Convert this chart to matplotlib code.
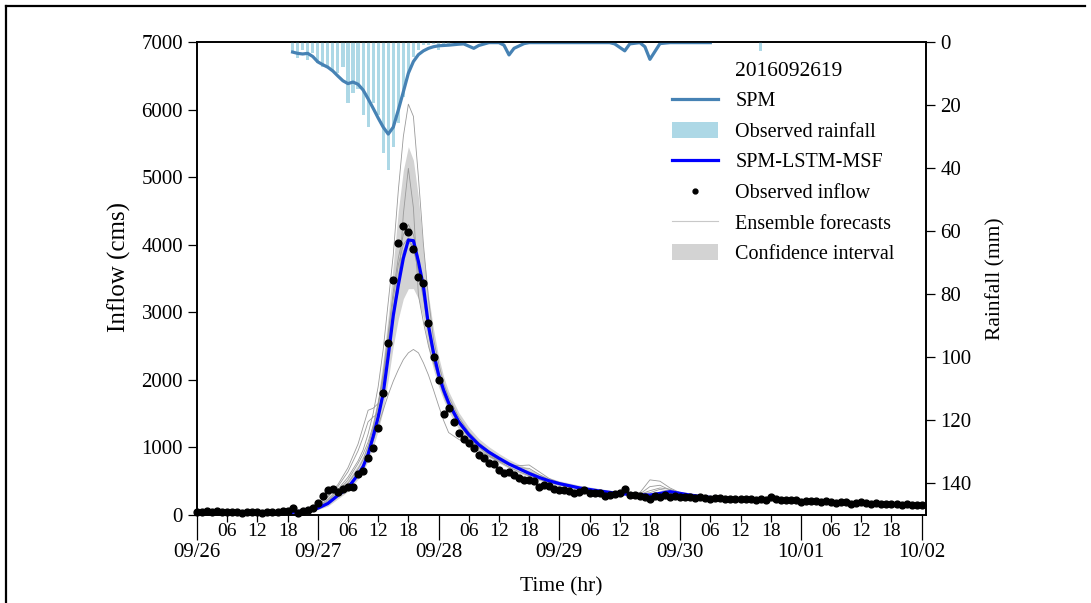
import numpy as np
import matplotlib
matplotlib.use('Agg')
import matplotlib.pyplot as plt
from matplotlib.lines import Line2D
from matplotlib.patches import Patch

plt.rcParams['font.family'] = ['Liberation Serif', 'DejaVu Serif']

# ---------------- data ----------------
# Observed inflow (cms), hourly from 2016-09-26 00:00
obs_inflow = [50, 40, 55, 45, 60, 40, 50, 45, 40, 35, 45, 40, 45, 35, 50, 40, 45, 55,
              60, 100, 30, 60, 80, 100, 180, 280, 370, 380, 340, 390, 415, 420, 600, 650,
              840, 990, 1290, 1800, 2545, 3475, 4030, 4280, 4190, 3940, 3525, 3430, 2840,
              2340, 2000, 1490, 1590, 1380, 1210, 1120, 1060, 990, 890, 840, 775, 750, 665,
              625, 640, 590, 545, 520, 520, 505, 410, 445, 430, 380, 370, 370, 360, 330,
              345, 370, 330, 320, 320, 280, 295, 310, 320, 380,
              300, 290, 285, 270, 230, 280, 260, 290, 270, 280, 270, 260, 270, 250, 260,
              250, 240, 250, 245, 240, 235, 240, 230, 240, 230, 225, 230, 220, 270, 230,
              225, 220, 220, 215, 190, 200, 205, 200, 195, 205, 190, 180, 185, 190, 170,
              180, 190, 175, 170, 180, 165, 170, 160, 165, 155, 160, 150, 155, 150]

# Forecast time grid (hours since 09/26 00:00)
fc_hours = [19, 22, 24, 26, 28, 30, 32, 33, 34, 35, 36, 37, 38, 39, 40, 41, 42, 43, 44,
            45, 46, 47, 48, 49, 50, 52, 54, 56, 58, 60, 62, 64, 66, 68, 70, 72, 76, 80,
            84, 88, 90, 92, 94, 96, 98, 100, 102]
spm_lstm_msf = [40, 70, 100, 170, 290, 400, 600, 715, 900, 1160, 1450, 1800, 2350, 2950,
                3400, 3800, 4070, 4060, 3750, 3380, 2800, 2400, 2080, 1850, 1660, 1380,
                1190, 1040, 930, 840, 755, 685, 615, 555, 505, 465, 400, 355, 315, 300,
                295, 320, 345, 320, 295, 275, 260]
ci_lower = [30, 50, 80, 130, 240, 350, 530, 640, 800, 1000, 1250, 1550, 2000, 2500, 2900,
            3200, 3350, 3350, 3200, 2900, 2450, 2150, 1900, 1700, 1530, 1270, 1090, 950,
            850, 770, 690, 620, 560, 510, 465, 430, 375, 330, 295, 280, 275, 295, 315,
            295, 275, 258, 245]
ci_upper = [50, 100, 150, 250, 380, 520, 740, 880, 1080, 1400, 1750, 2300, 2950, 3700,
            4500, 5100, 5450, 5250, 4700, 3900, 3250, 2750, 2350, 2050, 1830, 1520, 1300,
            1130, 1010, 910, 820, 750, 680, 610, 550, 505, 440, 390, 345, 325, 320, 350,
            380, 350, 320, 300, 285]
ens_1 = [40, 80, 130, 230, 380, 560, 800, 960, 1200, 1500, 1900, 2450, 3150, 3850, 4800,
         5600, 6080, 5900, 5000, 4000, 3200, 2600, 2250, 1950, 1750, 1450, 1230, 1070,
         950, 850, 760, 690, 620, 560, 510, 470, 410, 360, 320, 310, 330, 380, 350, 320,
         300, 280, 265]
ens_2 = [35, 65, 110, 190, 320, 470, 680, 820, 1020, 1280, 1620, 2050, 2550, 3000, 3300,
         4450, 5130, 4550, 3250, 2850, 2500, 2250, 2050, 1850, 1680, 1410, 1200, 1045,
         935, 840, 755, 690, 625, 560, 505, 465, 400, 355, 318, 300, 300, 330, 355, 325,
         300, 280, 262]
ens_3 = [40, 70, 110, 180, 300, 430, 620, 740, 900, 1100, 1320, 1550, 1780, 1980, 2150,
         2300, 2400, 2450, 2400, 2250, 2070, 1850, 1620, 1400, 1220, 1120, 1040, 950,
         870, 790, 710, 640, 580, 525, 480, 445, 390, 345, 305, 290, 290, 300, 320, 305,
         285, 265, 250]
ens_4 = [40, 90, 160, 280, 450, 700, 1050, 1300, 1550, 1580, 1650, 2000, 2600, 3200,
         3700, 4000, 4100, 3950, 3600, 3200, 2700, 2300, 2000, 1780, 1600, 1350, 1150,
         1000, 880, 800, 740, 730, 740, 640, 540, 480, 410, 360, 320, 330, 520, 500, 400,
         330, 300, 275, 260]
ens_5 = [40, 85, 150, 260, 420, 640, 950, 1150, 1380, 1450, 1500, 1850, 2450, 3050, 3550,
         3900, 4050, 3950, 3650, 3250, 2750, 2350, 2050, 1820, 1640, 1370, 1170, 1020,
         900, 810, 740, 700, 690, 600, 520, 470, 405, 358, 318, 310, 420, 440, 370, 320,
         298, 275, 260]
ens_6 = [40, 75, 120, 210, 350, 520, 760, 900, 1080, 1320, 1650, 2100, 2700, 3300, 3800,
         4150, 4300, 4150, 3800, 3350, 2850, 2420, 2100, 1860, 1670, 1390, 1190, 1035,
         920, 830, 750, 690, 640, 575, 510, 465, 402, 356, 316, 305, 360, 400, 380, 330,
         300, 278, 262]
ensembles = [ens_1, ens_2, ens_3, ens_4, ens_5, ens_6]

# Observed rainfall (mm), hourly
rain_hours = list(range(19, 51)) + [112]
rain_mm = [3.6, 5.2, 2.5, 5.7, 3.6, 6.8, 7.8, 8.4, 8.9, 9.9, 8.0, 19.5, 16.3, 15.0, 23.2,
           26.9, 19.5, 23.2, 35.3, 40.6, 33.2, 25.8, 17.3, 9.9, 4.7, 2.5, 1.0, 1.0, 0.5,
           2.5, 0.5, 1.0, 2.8]

# SPM (plotted on rainfall axis)
spm_hours = [19, 20, 21, 22, 23, 24, 25, 26, 27, 28, 29, 30, 31, 32, 33, 34, 35, 36, 37,
             38, 39, 40, 41, 42, 43, 44, 45, 46, 47, 48, 50, 52, 53, 55, 56, 58, 60, 61,
             62, 63, 65, 66, 82, 83, 85, 86, 88, 89, 90, 91, 92, 94, 102]
spm_mm = [3.2, 3.6, 3.8, 3.6, 4.6, 6.3, 7.2, 8.0, 9.2, 10.8, 12.3, 13.2, 12.7, 13.4, 15.2,
          18.0, 21.0, 24.1, 27.0, 29.2, 27.0, 21.6, 15.8, 9.9, 6.2, 4.0, 2.8, 2.0, 1.5,
          1.2, 1.0, 0.7, 0.6, 2.0, 1.1, 0.2, 0.2, 1.0, 4.1, 2.0, 0.5, 0.2, 0.2, 0.6, 2.8,
          0.6, 0.2, 1.5, 5.5, 3.0, 0.5, 0.2, 0.2]

day_labels = ['09/26', '09/27', '09/28', '09/29', '09/30', '10/01', '10/02']
hour_labels = ['06', '12', '18']
event_id = '2016092619'

# ---------------- figure ----------------
W, H = 1091, 603
fig = plt.figure(figsize=(W / 100, H / 100), dpi=100)
ax = fig.add_axes([197 / W, 1 - 515 / H, (925.7 - 197) / W, (515 - 42) / H])

ci_color = '#d3d3d3'
ax.fill_between(fc_hours, ci_lower, ci_upper, color=ci_color, lw=0, zorder=1)
for e in ensembles:
    ax.plot(fc_hours, e, color='#9a9a9a', lw=0.6, zorder=2)
ax.plot(fc_hours, spm_lstm_msf, color='#0000ff', lw=2.3, zorder=3)
ax.plot(np.arange(len(obs_inflow)), obs_inflow, 'o', color='black', ms=4.9, zorder=4,
        clip_on=False)

ax.set_xlim(0, 144.8)
ax.set_ylim(0, 7000)
ax.set_yticks(np.arange(0, 7001, 1000))
major = np.arange(0, 145, 24)
ax.set_xticks(major)
ax.set_xticklabels(day_labels)
minor = [h for h in range(0, 145, 6) if h % 24]
ax.set_xticks(minor, minor=True)
ax.set_xticklabels([hour_labels[(h % 24) // 6 - 1] for h in minor], minor=True)
ax.tick_params(axis='x', which='major', length=18, width=0.9, pad=2, labelsize=15)
ax.tick_params(axis='x', which='minor', length=5, width=0.9, pad=1, labelsize=14)
ax.tick_params(axis='y', length=6.5, width=0.9, pad=3.5, labelsize=15)
ax.set_ylabel('Inflow (cms)', fontsize=18)
ax.yaxis.set_label_coords(-0.091, 0.525)
ax.set_xlabel('Time (hr)', fontsize=15.5)
ax.xaxis.set_label_coords(0.5, -0.132)
for s in ax.spines.values():
    s.set_linewidth(1.2)

ax2 = ax.twinx()
ax2.bar(rain_hours, rain_mm, width=0.62, color='#add8e6', zorder=1)
ax2.plot(spm_hours, spm_mm, color='#4682b4', lw=2.3, zorder=2)
ax2.set_ylim(150, 0)
ax2.set_yticks(np.arange(0, 141, 20))
ax2.tick_params(axis='y', length=6.5, width=0.9, pad=4, labelsize=15)
ax2.set_ylabel('Rainfall (mm)', fontsize=15.5)
ax2.yaxis.set_label_coords(1.083, 0.5)
for s in ax2.spines.values():
    s.set_linewidth(1.2)

handles = [
    Line2D([], [], color='none'),
    Line2D([], [], color='#4682b4', lw=2.3),
    Patch(facecolor='#add8e6', edgecolor='none'),
    Line2D([], [], color='#0000ff', lw=2.3),
    Line2D([], [], marker='o', ls='', color='black', ms=3.5),
    Line2D([], [], color='#c8c8c8', lw=0.8),
    Patch(facecolor=ci_color, edgecolor='none'),
]
labels = [event_id, 'SPM', 'Observed rainfall', 'SPM-LSTM-MSF', 'Observed inflow',
          'Ensemble forecasts', 'Confidence interval']
leg = ax2.legend(handles, labels, loc='upper left', bbox_to_anchor=(672 / W, 1 - 61 / H),
                 bbox_transform=fig.transFigure, frameon=False, fontsize=14.5,
                 handlelength=2.3, handletextpad=0.85, labelspacing=0.54, borderpad=0,
                 borderaxespad=0, handleheight=0.8)
leg.get_texts()[0].set_fontsize(15.5)

# outer frame
fig.add_artist(Line2D([6 / W, 6 / W], [0, 1 - 6 / H], color='black', lw=1.6,
                      transform=fig.transFigure))
fig.add_artist(Line2D([6 / W, 1085 / W], [1 - 6 / H, 1 - 6 / H], color='black', lw=1.6,
                      transform=fig.transFigure))

fig.savefig('out.png', dpi=100)
